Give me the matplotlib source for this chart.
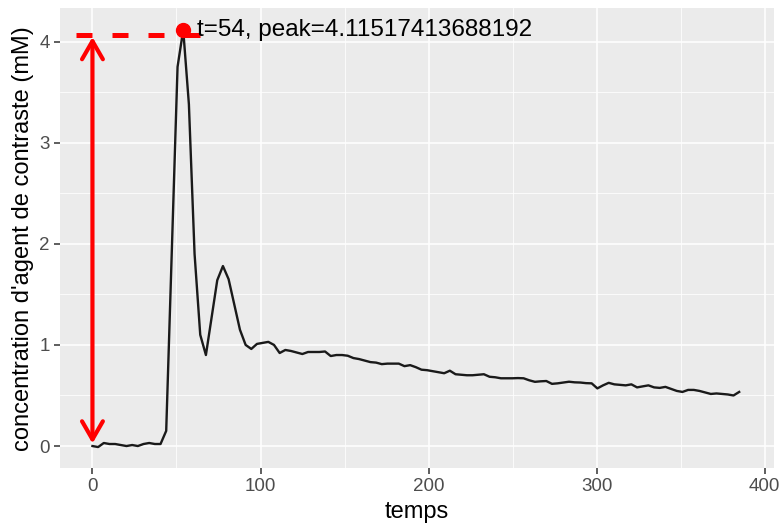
"""Courbe de concentration d'agent de contraste, style ggplot, avec pic annoté."""
import matplotlib

matplotlib.use("Agg")
import matplotlib.pyplot as plt

plt.rcParams["font.family"] = ["Liberation Sans", "DejaVu Sans"]

# temps d'acquisition (pas constant de 3.375)
temps = [
    0, 3.375, 6.75, 10.125, 13.5, 16.875, 20.25, 23.625, 27, 30.375,
    33.75, 37.125, 40.5, 43.875, 47.25, 50.625, 54, 57.375, 60.75, 64.125,
    67.5, 70.875, 74.25, 77.625, 81, 84.375, 87.75, 91.125, 94.5, 97.875,
    101.25, 104.625, 108, 111.375, 114.75, 118.125, 121.5, 124.875, 128.25, 131.625,
    135, 138.375, 141.75, 145.125, 148.5, 151.875, 155.25, 158.625, 162, 165.375,
    168.75, 172.125, 175.5, 178.875, 182.25, 185.625, 189, 192.375, 195.75, 199.125,
    202.5, 205.875, 209.25, 212.625, 216, 219.375, 222.75, 226.125, 229.5, 232.875,
    236.25, 239.625, 243, 246.375, 249.75, 253.125, 256.5, 259.875, 263.25, 266.625,
    270, 273.375, 276.75, 280.125, 283.5, 286.875, 290.25, 293.625, 297, 300.375,
    303.75, 307.125, 310.5, 313.875, 317.25, 320.625, 324, 327.375, 330.75, 334.125,
    337.5, 340.875, 344.25, 347.625, 351, 354.375, 357.75, 361.125, 364.5, 367.875,
    371.25, 374.625, 378, 381.375, 384.75,
]

concentration = [
    0.00, -0.01, 0.03, 0.02, 0.02, 0.01, 0.00, 0.01, 0.00, 0.02,
    0.03, 0.02, 0.02, 0.15, 1.95, 3.75, 4.11517413688192, 3.38, 1.90, 1.10,
    0.90, 1.27, 1.64, 1.78, 1.65, 1.40, 1.15, 1.00, 0.96, 1.01,
    1.02, 1.03, 1.00, 0.92, 0.95, 0.94, 0.925, 0.91, 0.93, 0.93,
    0.93, 0.935, 0.89, 0.90, 0.90, 0.893, 0.87, 0.86, 0.845, 0.83,
    0.825, 0.81, 0.815, 0.815, 0.815, 0.79, 0.80, 0.78, 0.755, 0.75,
    0.74, 0.73, 0.72, 0.745, 0.71, 0.705, 0.70, 0.70, 0.705, 0.71,
    0.685, 0.68, 0.67, 0.67, 0.67, 0.672, 0.67, 0.65, 0.635, 0.64,
    0.643, 0.615, 0.62, 0.628, 0.636, 0.63, 0.628, 0.622, 0.62, 0.57,
    0.60, 0.625, 0.61, 0.605, 0.60, 0.61, 0.58, 0.59, 0.60, 0.58,
    0.575, 0.585, 0.565, 0.545, 0.535, 0.555, 0.555, 0.545, 0.53, 0.515,
    0.52, 0.515, 0.51, 0.50, 0.535,
]

t_peak = 54
peak = 4.11517413688192
ref_level = 4.065          # niveau de la ligne pointillée / flèche
dash_span = (-9.5, 64.5)   # étendue de la ligne pointillée

x_ticks = [0, 100, 200, 300, 400]
y_ticks = [0, 1, 2, 3, 4]

fig = plt.figure(figsize=(7.83, 5.29), dpi=100)
ax = fig.add_axes([0.076, 0.1144, 0.913, 0.8705])
ax.set_facecolor("#EBEBEB")
for s in ax.spines.values():
    s.set_visible(False)

ax.set_xlim(-19.6, 405.7)
ax.set_ylim(-0.222, 4.332)
ax.set_xticks(x_ticks)
ax.set_yticks(y_ticks)
ax.set_xticks([50, 150, 250, 350], minor=True)
ax.set_yticks([0.5, 1.5, 2.5, 3.5], minor=True)
ax.grid(which="major", color="white", lw=1.1)
ax.grid(which="minor", color="white", lw=0.55)
ax.set_axisbelow(True)
ax.tick_params(which="major", length=4, width=1.1, color="#333333",
               labelsize=13.5, labelcolor="#4D4D4D", pad=3)
ax.tick_params(which="minor", length=0)

ax.plot(temps, concentration, color="#1a1a1a", lw=1.7, zorder=3)

# pic + annotations
ax.plot(dash_span, [ref_level, ref_level], color="red", lw=3.6,
        dashes=(3.2, 4.0), zorder=4)
ax.annotate("", xy=(0, ref_level - 0.02), xytext=(0, 0.025),
            arrowprops=dict(arrowstyle="<->, head_length=1.3, head_width=0.75",
                            color="red", lw=3, shrinkA=0, shrinkB=0,
                            mutation_scale=10),
            zorder=4)
ax.plot([t_peak], [peak], "o", color="red", ms=10, zorder=5)
ax.text(62, peak, f"t={t_peak}, peak={peak}", fontsize=17.5, va="center",
        ha="left", color="black", zorder=5)

ax.set_xlabel("temps", fontsize=17, labelpad=4)
ax.set_ylabel("concentration d'agent de contraste (mM)", fontsize=17, labelpad=4)

fig.savefig("out.png", dpi=100)
